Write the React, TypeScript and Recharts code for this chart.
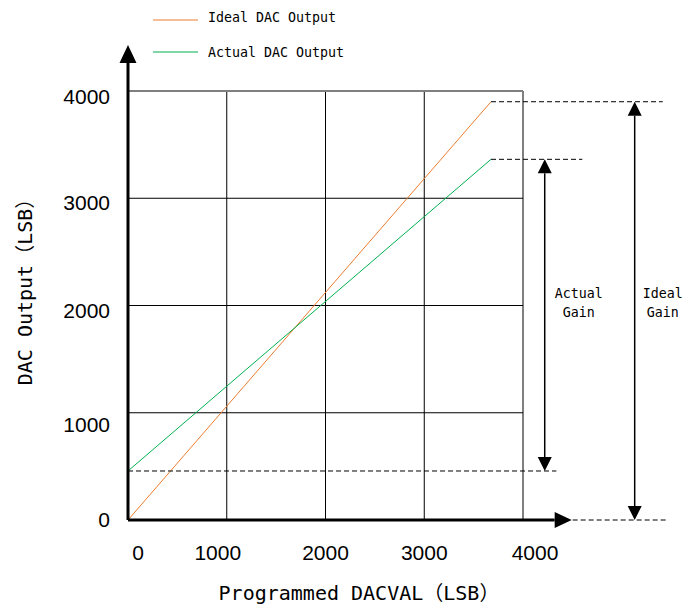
import React from 'react';
import {
  ComposedChart,
  Line,
  XAxis,
  YAxis,
  CartesianGrid,
  ReferenceLine,
} from 'recharts';

// programmed DAC codes at the two ends of each transfer line
const dacCodes = [0, 3676];
const idealOutput = [0, 3900];
const actualOutput = [457, 3363];
const axisTicks = [0, 1000, 2000, 3000, 4000];
const seriesNames = ['Ideal DAC Output', 'Actual DAC Output'];
const seriesColors = ['#ED7D31', '#00B050'];

const idealData = dacCodes.map((x, i) => ({ x, y: idealOutput[i] }));
const actualData = dacCodes.map((x, i) => ({ x, y: actualOutput[i] }));

const monoFont = '"DejaVu Sans Mono", "Noto Sans CJK SC", monospace';
const numFont = '"Liberation Sans", Arial, sans-serif';

// small nudges so the tick labels sit like in the original drawing
const xTickShift: Record<number, number> = { 0: 10, 1000: -9, 2000: 0, 3000: 0, 4000: 12 };
const yTickShift: Record<number, number> = { 0: -1, 1000: 12, 2000: 5, 3000: 4, 4000: 5 };

const XTick = (props: any) => {
  const { x, y, payload } = props;
  return (
    <text
      x={x + (xTickShift[payload.value] ?? 0)}
      y={y + 32}
      textAnchor="middle"
      dominantBaseline="central"
      fontFamily={numFont}
      fontSize={21}
      fill="#000"
    >
      {payload.value}
    </text>
  );
};

const YTick = (props: any) => {
  const { x, y, payload } = props;
  return (
    <text
      x={x - 18}
      y={y + (yTickShift[payload.value] ?? 0)}
      textAnchor="end"
      dominantBaseline="central"
      fontFamily={numFont}
      fontSize={21}
      fill="#000"
    >
      {payload.value}
    </text>
  );
};

const triangle = (tx: number, ty: number, ux: number, uy: number, len: number, w: number) => {
  const bx = tx - ux * len;
  const by = ty - uy * len;
  const px = -uy * (w / 2);
  const py = ux * (w / 2);
  return `${tx},${ty} ${bx + px},${by + py} ${bx - px},${by - py}`;
};

// line with a filled arrow head at the end (and at the start when both=true)
const arrowShape =
  (both: boolean, strokeWidth: number, headLen: number, headW: number, label?: string[], labelDx = 0, labelDy = 0) =>
  (p: any) => {
    const { x1, y1, x2, y2 } = p;
    const len = Math.hypot(x2 - x1, y2 - y1) || 1;
    const ux = (x2 - x1) / len;
    const uy = (y2 - y1) / len;
    const sx = both ? x1 + ux * headLen : x1;
    const sy = both ? y1 + uy * headLen : y1;
    const ex = x2 - ux * headLen;
    const ey = y2 - uy * headLen;
    const mx = (x1 + x2) / 2;
    const my = (y1 + y2) / 2;
    return (
      <g>
        <line x1={sx} y1={sy} x2={ex} y2={ey} stroke="#000" strokeWidth={strokeWidth} />
        <polygon points={triangle(x2, y2, ux, uy, headLen, headW)} fill="#000" />
        {both && <polygon points={triangle(x1, y1, -ux, -uy, headLen, headW)} fill="#000" />}
        {label &&
          label.map((t, i) => (
            <text
              key={t}
              x={mx + labelDx}
              y={my + labelDy + (i - (label.length - 1) / 2) * 19}
              textAnchor="middle"
              dominantBaseline="central"
              fontFamily={monoFont}
              fontSize={13.3}
              fill="#000"
            >
              {t}
            </text>
          ))}
      </g>
    );
  };

const dashed = { stroke: '#000', strokeWidth: 1, strokeDasharray: '5 3' };

const App: React.FC = () => {
  return (
    <div style={{ position: 'absolute', left: 0, top: 0, width: 688, height: 608, background: '#fff' }}>
      <ComposedChart width={688} height={608} margin={{ top: 91, right: 165, bottom: 48, left: 68 }}>
        <CartesianGrid stroke="#000" strokeWidth={1} strokeDasharray="0" />
        <XAxis
          dataKey="x"
          type="number"
          domain={[0, 4000]}
          ticks={axisTicks}
          axisLine={false}
          tickLine={false}
          tickSize={0}
          tickMargin={0}
          height={40}
          tick={<XTick />}
        />
        <YAxis
          type="number"
          domain={[0, 4000]}
          ticks={axisTicks}
          axisLine={false}
          tickLine={false}
          tickSize={0}
          tickMargin={0}
          width={60}
          tick={<YTick />}
        />
        <ReferenceLine y={4000} stroke="#808080" strokeWidth={2} />

        <Line data={idealData} dataKey="y" name={seriesNames[0]} stroke={seriesColors[0]} strokeWidth={1} dot={false} isAnimationActive={false} />
        <Line data={actualData} dataKey="y" name={seriesNames[1]} stroke={seriesColors[1]} strokeWidth={1} dot={false} isAnimationActive={false} />

        {/* dashed guide lines */}
        <ReferenceLine
          segment={[{ x: dacCodes[1], y: idealOutput[1] }, { x: 5415, y: idealOutput[1] }]}
          ifOverflow="visible"
          {...dashed}
        />
        <ReferenceLine
          segment={[{ x: dacCodes[1], y: actualOutput[1] }, { x: 4601, y: actualOutput[1] }]}
          ifOverflow="visible"
          {...dashed}
        />
        <ReferenceLine
          segment={[{ x: 0, y: actualOutput[0] }, { x: 4338, y: actualOutput[0] }]}
          ifOverflow="visible"
          {...dashed}
        />
        <ReferenceLine
          segment={[{ x: 4503, y: idealOutput[0] }, { x: 5456, y: idealOutput[0] }]}
          ifOverflow="visible"
          {...dashed}
        />

        {/* gain arrows */}
        <ReferenceLine
          segment={[{ x: 4220, y: actualOutput[0] }, { x: 4220, y: actualOutput[1] }]}
          ifOverflow="visible"
          shape={arrowShape(true, 1.5, 14, 14, ['Actual', 'Gain'], 34, -12)}
        />
        <ReferenceLine
          segment={[{ x: 5131, y: idealOutput[0] }, { x: 5131, y: idealOutput[1] }]}
          ifOverflow="visible"
          shape={arrowShape(true, 1.5, 14, 14, ['Ideal', 'Gain'], 28, -8)}
        />

        {/* axes with arrow heads */}
        <ReferenceLine
          segment={[{ x: 0, y: 0 }, { x: 0, y: 4429 }]}
          ifOverflow="visible"
          shape={arrowShape(false, 3, 18, 17)}
        />
        <ReferenceLine
          segment={[{ x: 0, y: 0 }, { x: 4493, y: 0 }]}
          ifOverflow="visible"
          shape={arrowShape(false, 3, 17, 16)}
        />

        <text
          x={359}
          y={593}
          textAnchor="middle"
          dominantBaseline="central"
          fontFamily={monoFont}
          fontSize={20}
          fill="#000"
        >
          Programmed DACVAL（LSB）
        </text>
        <text
          x={25}
          y={287}
          transform="rotate(-90 25 287)"
          textAnchor="middle"
          dominantBaseline="central"
          fontFamily={monoFont}
          fontSize={20}
          fill="#000"
        >
          DAC Output（LSB）
        </text>
      </ComposedChart>

      {/* legend */}
      <svg width={688} height={70} style={{ position: 'absolute', left: 0, top: 0, pointerEvents: 'none' }}>
        {seriesNames.map((name, i) => (
          <g key={name}>
            <line x1={153} x2={198} y1={20 + i * 32} y2={20 + i * 32} stroke={seriesColors[i]} strokeWidth={1} />
            <text
              x={208}
              y={17 + i * 35}
              dominantBaseline="central"
              fontFamily={monoFont}
              fontSize={13.3}
              fill="#000"
            >
              {name}
            </text>
          </g>
        ))}
      </svg>
    </div>
  );
};

export default App;
